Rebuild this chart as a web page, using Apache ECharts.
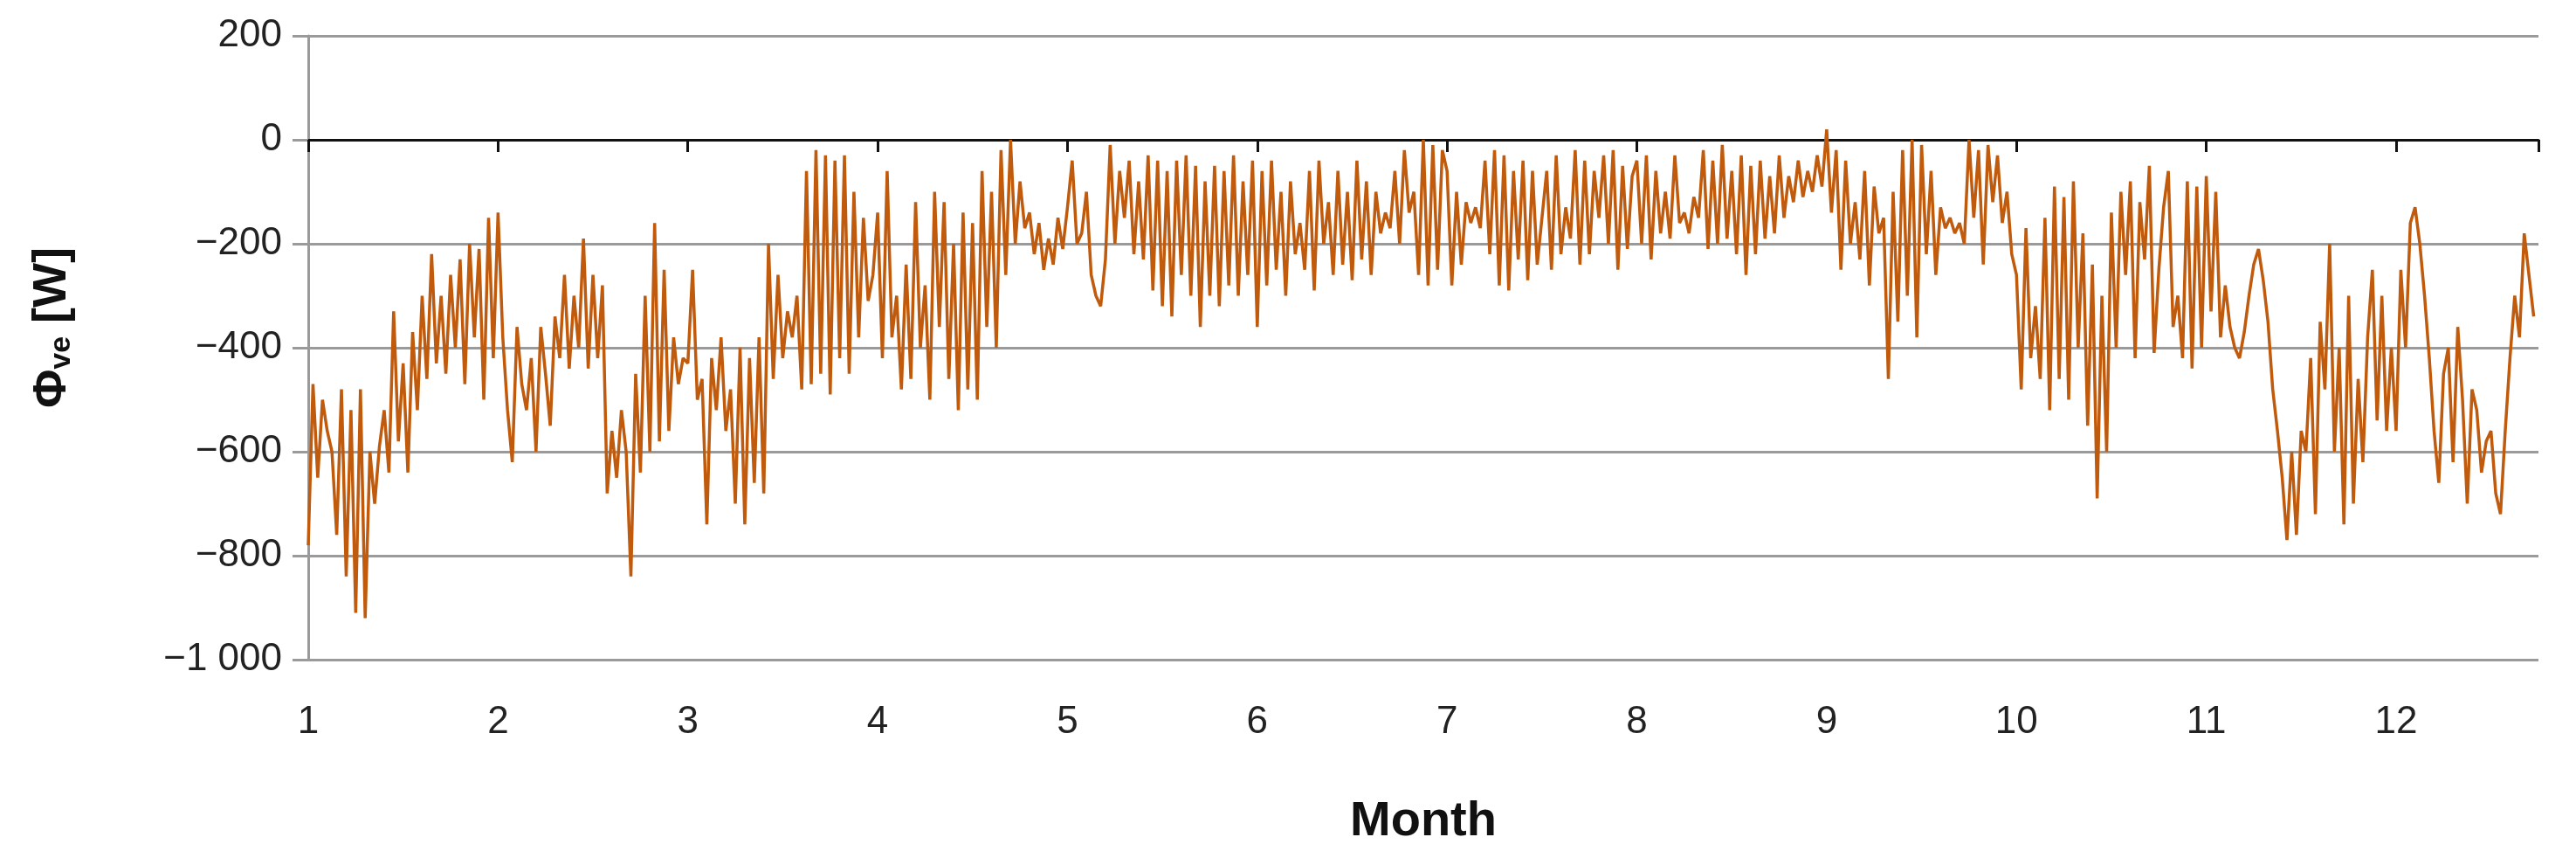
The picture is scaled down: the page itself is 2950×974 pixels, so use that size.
<!DOCTYPE html>
<html>
<head>
<meta charset="utf-8">
<script src="https://cdn.jsdelivr.net/npm/echarts@6/dist/echarts.min.js"></script>
<style>
  html, body { margin: 0; padding: 0; background: #fff; }
  #chart { width: 2950px; height: 974px; }
</style>
</head>
<body>
<div id="chart"></div>
<script>
// month ticks
const monthTicks = [1, 2, 3, 4, 5, 6, 7, 8, 9, 10, 11, 12];
const m1 = [-780,-470,-650,-500,-560,-600,-760,-480,-840,-520,-910,-480,-920,-600,-700,-590,-520,-640,-330,-580,-430,-640,-370,-520,-300,-460,-220,-430,-300,-450,-260,-400,-230,-470,-200,-380,-210,-500,-150,-420];
const m2 = [-140,-380,-520,-620,-360,-470,-520,-420,-600,-360,-450,-550,-340,-420,-260,-440,-300,-400,-190,-440,-260,-420,-280,-680,-560,-650,-520,-600,-840,-450,-640,-300,-600,-160,-580,-250,-560,-380,-470,-420];
const m3 = [-430,-250,-500,-460,-740,-420,-520,-380,-560,-480,-700,-400,-740,-420,-660,-380,-680,-200,-460,-260,-420,-330,-380,-300,-480,-60,-470,-20,-450,-30,-490,-40,-420,-30,-450,-100,-380,-150,-310,-260];
const m4 = [-140,-420,-60,-380,-300,-480,-240,-460,-120,-400,-280,-500,-100,-360,-120,-460,-200,-520,-140,-480,-160,-500,-60,-360,-100,-400,-20,-260,0,-200,-80,-170,-140,-220,-160,-250,-190,-240,-150,-210];
const m5 = [-130,-40,-200,-180,-100,-260,-300,-320,-230,-10,-200,-60,-150,-40,-220,-80,-230,-30,-290,-40,-320,-60,-340,-40,-260,-30,-300,-50,-360,-80,-300,-50,-320,-60,-280,-30,-300,-80,-260,-40];
const m6 = [-360,-60,-280,-40,-250,-100,-300,-80,-220,-160,-250,-60,-290,-40,-200,-120,-260,-60,-240,-100,-270,-40,-230,-80,-260,-100,-180,-140,-170,-60,-200,-20,-140,-100,-260,0,-280,-10,-250,-20];
const m7 = [-60,-280,-100,-240,-120,-160,-130,-170,-40,-220,-20,-280,-30,-290,-60,-230,-40,-270,-60,-240,-150,-60,-250,-30,-220,-130,-190,-20,-240,-40,-220,-60,-150,-30,-200,-20,-250,-50,-210,-70];
const m8 = [-40,-200,-30,-230,-60,-180,-100,-190,-30,-160,-140,-180,-110,-150,-20,-210,-40,-200,-10,-190,-60,-220,-30,-260,-50,-220,-40,-190,-70,-180,-30,-150,-70,-120,-40,-110,-60,-100,-30,-90];
const m9 = [20,-140,-20,-250,-40,-200,-120,-230,-60,-280,-90,-180,-150,-460,-100,-350,-20,-300,0,-380,-10,-220,-60,-260,-130,-170,-150,-180,-160,-200,0,-150,-20,-240,-10,-120,-30,-160,-100,-220];
const m10 = [-260,-480,-170,-420,-320,-460,-150,-520,-90,-460,-110,-500,-80,-400,-180,-550,-240,-690,-300,-600,-140,-400,-100,-260,-80,-420,-120,-230,-50,-410,-250,-130,-60,-360,-300,-420,-80,-440,-90,-400];
const m11 = [-70,-330,-100,-380,-280,-360,-400,-420,-370,-300,-240,-210,-270,-350,-480,-560,-650,-770,-600,-760,-560,-600,-420,-720,-350,-480,-200,-600,-400,-740,-300,-700,-460,-620,-380,-250,-540,-300,-560,-400];
const m12 = [-560,-250,-400,-160,-130,-200,-300,-420,-560,-660,-450,-400,-620,-360,-500,-700,-480,-520,-640,-580,-560,-680,-720,-560,-420,-300,-380,-180,-260,-340];

const months = [m1, m2, m3, m4, m5, m6, m7, m8, m9, m10, m11, m12];
const step = 0.025;
const seriesData = [];
months.forEach((arr, i) => {
  arr.forEach((v, k) => {
    seriesData.push([monthTicks[i] + k * step, v]);
  });
});

const fmtY = (v) => {
  let s = Math.abs(v) >= 1000 ? Math.abs(v).toString().replace(/\B(?=(\d{3})+(?!\d))/g, " ") : Math.abs(v).toString();
  return (v < 0 ? "\u2212" : "") + s;
};

const myChart = echarts.init(document.getElementById("chart"));
myChart.setOption({
  animation: false,
  backgroundColor: "#fff",
  grid: { left: 353, right: 43, top: 41, bottom: 195 },
  xAxis: [
    {
      type: "value",
      min: 1,
      max: 12.75,
      interval: 1,
      name: "Month",
      nameLocation: "middle",
      nameGap: 158,
      nameTextStyle: { fontFamily: "Liberation Sans", fontWeight: "bold", fontSize: 56, color: "#111" },
      axisLine: { show: false, onZero: false },
      axisTick: { show: false },
      splitLine: { show: false },
      axisLabel: {
        margin: 50,
        fontFamily: "Liberation Sans",
        fontSize: 44,
        color: "#222",
        formatter: (v) => (monthTicks.includes(v) ? String(v) : "")
      }
    },
    {
      type: "value",
      min: 1,
      max: 12.75,
      interval: 1,
      position: "bottom",
      axisLine: { show: true, onZero: true, lineStyle: { color: "#111", width: 3 } },
      axisTick: { show: true, length: 14, lineStyle: { color: "#111", width: 3 } },
      axisLabel: { show: false },
      splitLine: { show: false }
    }
  ],
  yAxis: {
    type: "value",
    min: -1000,
    max: 200,
    interval: 200,
    axisLine: { show: true, lineStyle: { color: "#9a9a9a", width: 3 } },
    axisTick: { show: true, length: 18, lineStyle: { color: "#9a9a9a", width: 3 } },
    splitLine: { lineStyle: { color: "#9a9a9a", width: 3 } },
    axisLabel: {
      margin: 30,
      fontFamily: "Liberation Sans",
      fontSize: 44,
      color: "#222",
      formatter: fmtY
    }
  },
  graphic: [
    {
      type: "text",
      x: 60,
      y: 375,
      rotation: Math.PI / 2,
      style: {
        text: "{a|\u03a6}{b|ve}{a| [W]}",
        align: "center",
        verticalAlign: "middle",
        rich: {
          a: { fontFamily: "Liberation Sans", fontWeight: "bold", fontSize: 54, fill: "#111" },
          b: { fontFamily: "Liberation Sans", fontWeight: "bold", fontSize: 34, fill: "#111", padding: [22, 0, 0, 0] }
        }
      }
    }
  ],
  series: [
    {
      type: "line",
      xAxisIndex: 0,
      data: seriesData,
      showSymbol: false,
      lineStyle: { color: "#C05A0C", width: 3.5 },
      z: 3
    }
  ]
});
</script>
</body>
</html>
